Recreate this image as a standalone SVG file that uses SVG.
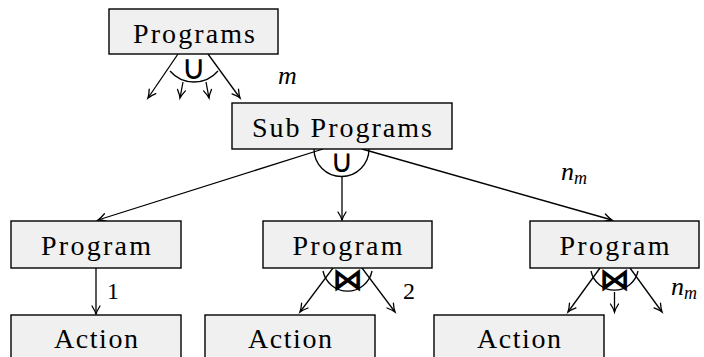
<svg xmlns="http://www.w3.org/2000/svg" width="704" height="357" viewBox="0 0 704 357">
<style>
.box{fill:#f0f0f0;stroke:#000;stroke-width:1.4}
.ln{stroke:#000;stroke-width:1.3;fill:none}
.arr{stroke:#000;stroke-width:1.3;fill:none;marker-end:url(#tip)}
</style>
<defs>
<marker id="tip" markerUnits="userSpaceOnUse" markerWidth="12" markerHeight="12" viewBox="-9 -6 12 12" refX="0" refY="0" orient="auto" overflow="visible">
<path d="M-8,-4 Q-3,-0.8 0,0 Q-3,0.8 -8,4" stroke="#000" stroke-width="1.3" fill="none" stroke-linecap="round"/>
</marker>
</defs>
<g id="connectors">
<line class="arr" x1="178" y1="54" x2="148" y2="98"/>
<line class="arr" x1="208" y1="54" x2="240" y2="98"/>
<line class="arr" x1="183" y1="82" x2="180" y2="98"/>
<line class="arr" x1="206" y1="82" x2="209" y2="98"/>
<path class="ln" d="M170,71 A31.7,31.7 0 0 0 218,71"/>
<line class="arr" x1="323" y1="149" x2="98" y2="220"/>
<line class="arr" x1="362" y1="149" x2="612" y2="220"/>
<line class="arr" x1="342" y1="177" x2="342" y2="220"/>
<path class="ln" d="M314,149 A27.5,27.5 0 0 0 369,149"/>
<line class="arr" x1="96" y1="268" x2="96" y2="314"/>
<line class="arr" x1="333" y1="268" x2="300" y2="312"/>
<line class="arr" x1="362" y1="268" x2="395" y2="312"/>
<path class="ln" d="M323,271 A25,25 0 0 0 372,271"/>
<line class="arr" x1="600" y1="268" x2="568" y2="312"/>
<line class="arr" x1="630" y1="268" x2="662" y2="312"/>
<line class="arr" x1="614.5" y1="292" x2="614.5" y2="312"/>
<path class="ln" d="M591,271 A24,24 0 0 0 638,271"/>
</g>
<g font-family="Liberation Serif, DejaVu Serif, serif" fill="#000">
<g id="n-programs">
<rect class="box" x="109" y="9" width="169" height="45"/>
<text x="194" y="43" font-size="28" text-anchor="middle" textLength="122" lengthAdjust="spacing">Programs</text>
<text x="194" y="79" font-family="DejaVu Sans, sans-serif" font-size="34" text-anchor="middle">∪</text>
</g>
<g id="n-subprograms">
<rect class="box" x="232" y="103" width="220" height="46"/>
<text x="342" y="137" font-size="28" text-anchor="middle" textLength="180" lengthAdjust="spacing">Sub Programs</text>
<text x="342" y="172" font-family="DejaVu Sans, sans-serif" font-size="32" text-anchor="middle">∪</text>
</g>
<g id="n-program1">
<rect class="box" x="11" y="221" width="170" height="47"/>
<text x="96" y="255" font-size="28" text-anchor="middle" textLength="110" lengthAdjust="spacing">Program</text>
</g>
<g id="n-program2">
<rect class="box" x="263" y="221" width="169" height="47"/>
<text x="347.5" y="255" font-size="28" text-anchor="middle" textLength="110" lengthAdjust="spacing">Program</text>
<text x="347.5" y="290" font-family="DejaVu Sans, sans-serif" font-size="31" font-weight="bold" text-anchor="middle">⋈</text>
</g>
<g id="n-program3">
<rect class="box" x="530" y="221" width="169" height="47"/>
<text x="614.5" y="255" font-size="28" text-anchor="middle" textLength="110" lengthAdjust="spacing">Program</text>
<text x="614.5" y="290" font-family="DejaVu Sans, sans-serif" font-size="31" font-weight="bold" text-anchor="middle">⋈</text>
</g>
<g id="n-action1">
<rect class="box" x="11" y="315" width="170" height="50"/>
<text x="96" y="348" font-size="28" text-anchor="middle" textLength="84" lengthAdjust="spacing">Action</text>
</g>
<g id="n-action2">
<rect class="box" x="205" y="315" width="170" height="50"/>
<text x="290" y="348" font-size="28" text-anchor="middle" textLength="84" lengthAdjust="spacing">Action</text>
</g>
<g id="n-action3">
<rect class="box" x="434" y="315" width="170" height="50"/>
<text x="519" y="348" font-size="28" text-anchor="middle" textLength="84" lengthAdjust="spacing">Action</text>
</g>
<g id="labels">
<text x="278" y="84" font-size="26" font-style="italic">m</text>
<text x="561" y="180" font-size="26" font-style="italic">n<tspan font-size="18" dy="4">m</tspan></text>
<text x="107" y="299" font-size="24">1</text>
<text x="403" y="299" font-size="24">2</text>
<text x="671" y="295" font-size="26" font-style="italic">n<tspan font-size="18" dy="4">m</tspan></text>
</g>
</g>
</svg>
